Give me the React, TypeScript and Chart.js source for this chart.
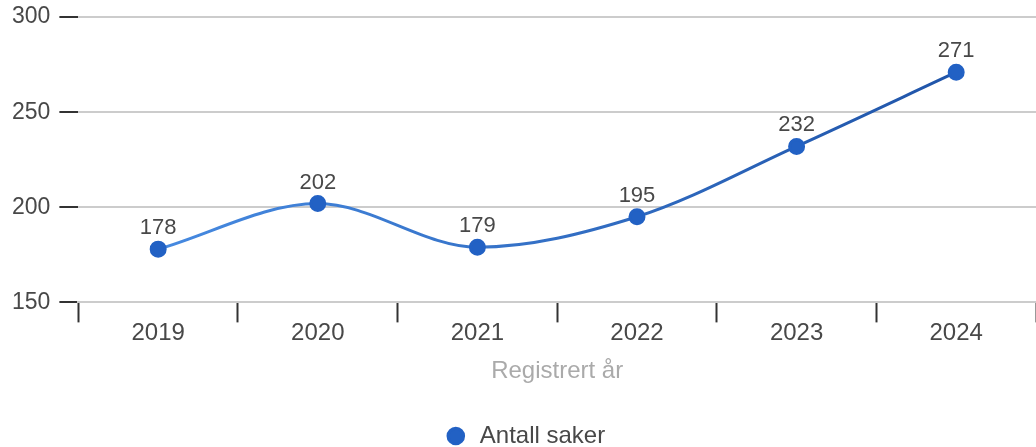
import React, { useEffect, useRef } from "react";
import { Chart, registerables } from "chart.js";

Chart.register(...registerables);

const categories = ["2019", "2020", "2021", "2022", "2023", "2024"];
const seriesValues = [178, 202, 179, 195, 232, 271];
const seriesLabel = "Antall saker";
const xTitle = "Registrert år";
const yTicks = [150, 200, 250, 300];

const FONT = "'Liberation Sans', Arial, sans-serif";

const dataLabelPlugin = {
  id: "dataLabels",
  afterDatasetsDraw(chart: any) {
    const ctx = chart.ctx;
    const meta = chart.getDatasetMeta(0);
    const ds = chart.data.datasets[0];
    ctx.save();
    ctx.font = `22px ${FONT}`;
    ctx.fillStyle = "#484848";
    ctx.textAlign = "center";
    ctx.textBaseline = "bottom";
    meta.data.forEach((pt: any, i: number) => {
      ctx.fillText(String(ds.data[i]), pt.x, pt.y - 10);
    });
    ctx.restore();
  },
};

export default function App() {
  const ref = useRef<HTMLCanvasElement | null>(null);
  useEffect(() => {
    document.body.style.margin = "0";
    document.body.style.overflow = "hidden";
    if (!ref.current) return;
    const chart = new Chart(ref.current, {
      type: "line",
      data: {
        labels: categories,
        datasets: [
          {
            label: seriesLabel,
            data: seriesValues,
            borderColor: (c: any) => {
              const area = c.chart.chartArea;
              if (!area) return "#3a7bd5";
              const g = c.chart.ctx.createLinearGradient(area.left, 0, area.right, 0);
              g.addColorStop(0, "#4a8fe6");
              g.addColorStop(1, "#1c4fa3");
              return g;
            },
            borderWidth: 3,
            backgroundColor: "#2261c4",
            pointBackgroundColor: "#2261c4",
            pointBorderColor: "#2261c4",
            pointRadius: 7,
            pointHoverRadius: 7,
            cubicInterpolationMode: "monotone",
            fill: false,
          },
        ],
      },
      options: {
        responsive: false,
        animation: false,
        layout: { padding: { top: 0, left: 3, right: 0, bottom: -11 } },
        plugins: {
          tooltip: { enabled: false },
          legend: {
            position: "bottom",
            labels: {
              usePointStyle: true,
              pointStyle: "circle",
              boxWidth: 28,
              boxHeight: 11,
              padding: 2,
              color: "#484848",
              font: { family: FONT, size: 24 },
            },
          },
        },
        scales: {
          x: {
            offset: true,
            grid: {
              display: true,
              drawOnChartArea: false,
              offset: true,
              tickLength: 20,
              tickColor: "#333333",
              tickWidth: 2,
            },
            border: { display: true, color: "#cccccc", width: 2 },
            ticks: {
              color: "#484848",
              font: { family: FONT, size: 24 },
              padding: -3,
            },
            title: {
              display: true,
              text: xTitle,
              color: "#aaaaaa",
              font: { family: FONT, size: 24 },
              padding: { top: 12, bottom: 36 },
            },
          },
          y: {
            min: 150,
            max: 300,
            afterBuildTicks: (axis: any) => {
              axis.ticks = yTicks.map((v) => ({ value: v }));
            },
            grid: {
              color: "#cccccc",
              lineWidth: 2,
              tickLength: 19,
              tickColor: "#333333",
              tickWidth: 2,
            },
            border: { display: false },
            ticks: {
              color: "#484848",
              font: { family: FONT, size: 23, lineHeight: 0.7 },
              padding: 9,
            },
          },
        },
      },
      plugins: [dataLabelPlugin],
    } as any);
    return () => chart.destroy();
  }, []);
  return <canvas ref={ref} width={1046} height={447} style={{ display: "block" }} />;
}
